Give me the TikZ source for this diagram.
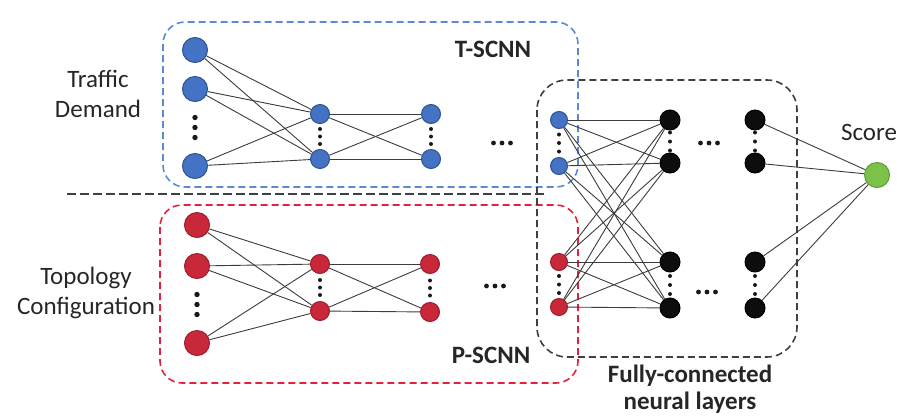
\documentclass[tikz,border=0pt]{standalone}
\usepackage{fontspec}
\setmainfont{Carlito}
\usepackage{tikz}
\usetikzlibrary{positioning, calc}

\definecolor{nnblue}{HTML}{4472C4}
\definecolor{nnbluedark}{HTML}{2F528F}
\definecolor{nnred}{HTML}{C8283A}
\definecolor{nnreddark}{HTML}{9A1E2B}
\definecolor{nngreen}{HTML}{7CC24A}
\definecolor{nngreendark}{HTML}{5B9B35}
\definecolor{boxblue}{HTML}{5A8AD2}
\definecolor{boxred}{HTML}{E2223C}
\definecolor{linkgray}{HTML}{3C3C3C}

\tikzset{
    neuron/.style={circle, draw, line width=1pt, inner sep=0pt},
    tin/.style={neuron, fill=nnblue, draw=nnbluedark, minimum size=25pt},
    thid/.style={neuron, fill=nnblue, draw=nnbluedark, minimum size=19pt},
    tfc/.style={neuron, fill=nnblue, draw=nnbluedark, minimum size=17pt},
    pin/.style={neuron, fill=nnred, draw=nnreddark, minimum size=25pt},
    phid/.style={neuron, fill=nnred, draw=nnreddark, minimum size=19pt},
    pfc/.style={neuron, fill=nnred, draw=nnreddark, minimum size=17pt},
    fcnode/.style={neuron, fill=black!95, draw=black, minimum size=20pt},
    scorenode/.style={neuron, fill=nngreen, draw=nngreendark, minimum size=25pt},
    link/.style={draw=linkgray, line width=0.9pt},
    groupbox/.style={dash pattern=on 7pt off 4pt, line width=1.6pt},
    sidetext/.style={font=\fontsize{25}{30}\selectfont, align=center, text=black!85},
    grouptext/.style={font=\fontsize{25}{27}\selectfont\bfseries, align=center, text=black!85},
}

% three dots between two nodes of a column
\newcommand{\colldots}[4]{%
    \foreach \k in {-1,0,1}
    {
        \fill[black!90] ($(#1)!0.5!(#2)$) ++(0,\k*#3) circle (#4);
    }
}
% three dots in a row
\newcommand{\rowdots}[1]{%
    \foreach \k in {-1,0,1}
    {
        \fill[black!90] ($(#1)+(\k*8.5,0)$) circle (2.4pt);
    }
}

\begin{document}
\begin{tikzpicture}[x=1pt, y=-1pt]
    \useasboundingbox (0,0) rectangle (901,416);

    % group boxes
    \draw[groupbox, boxblue, rounded corners=22pt] (163,22) rectangle (578,187);
    \draw[groupbox, boxred, rounded corners=22pt] (160,205) rectangle (578,383);
    \draw[groupbox, black!75, rounded corners=30pt] (537,80) rectangle (797,357);

    % separator
    \draw[black!75, line width=2pt, dash pattern=on 9pt off 4pt] (67,194) -- (547,194);

    % T-SCNN
    \foreach \name/\x/\y in {ti1/195/50, ti2/195/89, ti3/195/166}
        \node[tin] (\name) at (\x,\y) {};
    \foreach \name/\x/\y in {th1a/320/114, th1b/320/159, th2a/431/114, th2b/431/159}
        \node[thid] (\name) at (\x,\y) {};

    % P-SCNN
    \foreach \name/\x/\y in {pi1/197/225, pi2/197/266, pi3/197/343}
        \node[pin] (\name) at (\x,\y) {};
    \foreach \name/\x/\y in {ph1a/320/264, ph1b/320/311, ph2a/430/264, ph2b/430/312}
        \node[phid] (\name) at (\x,\y) {};

    % fully-connected layers
    \node[tfc] (ft1) at (559,120) {};
    \node[tfc] (ft2) at (559,166) {};
    \node[pfc] (fp1) at (559,262) {};
    \node[pfc] (fp2) at (559,307) {};
    \foreach \name/\x/\y in {fa1/670/120, fa2/670/163, fa3/670/262, fa4/670/308,
                             fb1/755/120, fb2/755/163, fb3/755/262, fb4/755/308}
        \node[fcnode] (\name) at (\x,\y) {};
    \node[scorenode] (score) at (877,175) {};

    % links
    \foreach \a in {ti1,ti2,ti3}
        \foreach \b in {th1a,th1b}
            \draw[link] (\a) -- (\b);
    \foreach \a in {th1a,th1b}
        \foreach \b in {th2a,th2b}
            \draw[link] (\a) -- (\b);
    \foreach \a in {pi1,pi2,pi3}
        \foreach \b in {ph1a,ph1b}
            \draw[link] (\a) -- (\b);
    \foreach \a in {ph1a,ph1b}
        \foreach \b in {ph2a,ph2b}
            \draw[link] (\a) -- (\b);
    \foreach \a in {ft1,ft2,fp1,fp2}
        \foreach \b in {fa1,fa2,fa3,fa4}
            \draw[link] (\a) -- (\b);
    \foreach \a in {fb1,fb2,fb3,fb4}
        \draw[link] (\a) -- (score);

    % dots
    \colldots{ti2}{ti3}{10}{2.7pt}
    \colldots{pi2}{pi3}{10}{2.7pt}
    \colldots{th1a}{th1b}{7.5}{2pt}
    \colldots{th2a}{th2b}{7.5}{2pt}
    \colldots{ph1a}{ph1b}{7.5}{2pt}
    \colldots{ph2a}{ph2b}{7.5}{2pt}
    \colldots{ft1}{ft2}{8.5}{2pt}
    \colldots{fp1}{fp2}{8.5}{2pt}
    \colldots{fa1}{fa2}{9}{2pt}
    \colldots{fa3}{fa4}{9}{2pt}
    \colldots{fb1}{fb2}{9}{2pt}
    \colldots{fb3}{fb4}{9}{2pt}

    \coordinate (tdots) at (502,143);
    \coordinate (pdots) at (495,286);
    \coordinate (fdots1) at (709,143);
    \coordinate (fdots2) at (707,292);
    \rowdots{tdots}
    \rowdots{pdots}
    \rowdots{fdots1}
    \rowdots{fdots2}

    % texts
    \node[sidetext] (traffic) at (98,94) {Traffic\\Demand};
    \node[sidetext] (topo) at (86,293) {Topology\\Configuration};
    \node[grouptext, anchor=base] (tscnn) at (493,57) {T-SCNN};
    \node[grouptext, anchor=base] (pscnn) at (491,363) {P-SCNN};
    \node[sidetext, anchor=base] (scoretext) at (869,140) {Score};
    \node[grouptext] (fclayers) at (690,389) {Fully-connected\\neural layers};
\end{tikzpicture}
\end{document}
